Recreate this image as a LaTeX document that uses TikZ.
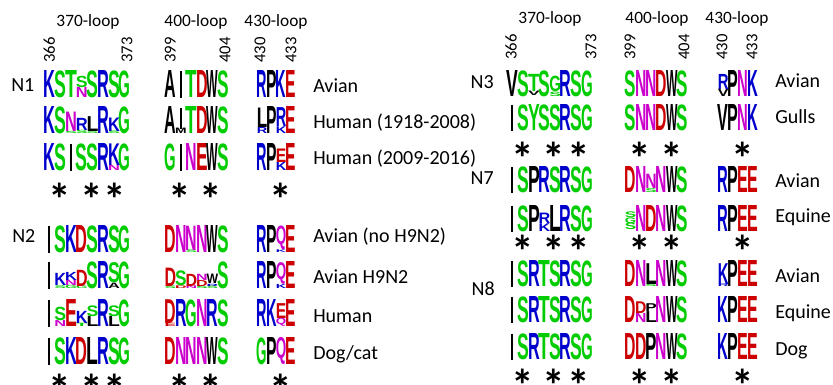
\documentclass[tikz,border=0pt]{standalone}
\usepackage{fontspec}
\setmainfont{Carlito}
\newfontfamily\logofont{Liberation Sans}
\usepackage{graphicx}

\newlength\px
\setlength\px{0.75pt}
\newlength\pxw
\setlength\pxw{0.825pt}

\definecolor{lgreen}{RGB}{0,204,0}
\definecolor{lblue}{RGB}{0,0,204}
\definecolor{lred}{RGB}{204,0,0}
\definecolor{lmag}{RGB}{204,0,204}
\colorlet{cS}{lgreen}\colorlet{cT}{lgreen}\colorlet{cG}{lgreen}\colorlet{cY}{lgreen}
\colorlet{cK}{lblue}\colorlet{cR}{lblue}
\colorlet{cD}{lred}\colorlet{cE}{lred}
\colorlet{cN}{lmag}\colorlet{cQ}{lmag}
\colorlet{cA}{black}\colorlet{cV}{black}\colorlet{cL}{black}\colorlet{cP}{black}
\colorlet{cW}{black}\colorlet{cM}{black}

% one letter: x, bottom, width, height, letter (- = nothing, I = thin bar)
\newcommand\lett[5]{%
  \if#5-\relax\else
  \if#5I\fill ({#1+#3/2-1.1},#2) rectangle ++(2.2,{-#4});%
  \else\node[anchor=south west, inner sep=0pt] at ({#1-0.05*#3},#2)
    {\resizebox*{#3\pxw}{#4\px}{\color{c#5}\logofont\bfseries #5}};%
  \fi\fi}

% a row of full letters: x0, column width, bottom, letters
\newcommand\logorow[4]{%
  \foreach \chr [count=\idx] in {#4}
    {\lett{#1+(\idx-1)*#2}{#3}{#2}{\lh}{\chr}}}

% a mixed column: x0, column width, bottom, column, letter/from/share
\newcommand\stk[5]{%
  \foreach \chr/\lo/\fr in {#5}{%
    \pgfmathsetmacro\yb{#3-\lo*\lh}%
    \pgfmathsetmacro\hh{\fr*\lh}%
    \lett{#1+(#4-1)*#2}{\yb}{#2}{\hh}{\chr}}}

\tikzset{
  hdr/.style={font=\fontsize{13}{15}\selectfont, inner sep=0pt},
  num/.style={font=\fontsize{12.5}{14}\selectfont, rotate=90, anchor=west, inner sep=0pt},
  lab/.style={font=\fontsize{15}{18}\selectfont, anchor=base west, inner sep=0pt},
  grp/.style={font=\fontsize{15}{18}\selectfont, inner sep=0pt},
  star/.style={font=\fontsize{34}{34}\selectfont\bfseries, anchor=north, inner sep=0pt}
}

\begin{document}
\begin{tikzpicture}[x=0.75pt, y=-0.75pt]
  \useasboundingbox[fill=white] (0,0) rectangle (833,385);

  % column blocks
  \def\xA{44}  \def\wA{10.75}
  \def\xB{165} \def\wB{10.5}
  \def\xC{257} \def\wC{9.5}
  \def\xD{507} \def\wD{10.65}
  \def\xE{625} \def\wE{10.35}
  \def\xF{718} \def\wF{9.75}

  % headers, left
  \node[hdr] (loopA) at (88,22) {370-loop};
  \node[hdr] (loopB) at (196,22) {400-loop};
  \node[hdr] (loopC) at (276,22) {430-loop};
  \node[num] (nA1) at (49.4,63) {366};
  \node[num] (nA2) at (127,63) {373};
  \node[num] (nB1) at (170.3,63) {399};
  \node[num] (nB2) at (225,63) {404};
  \node[num] (nC1) at (260,63) {430};
  \node[num] (nC2) at (291,63) {433};

  % headers, right
  \node[hdr] (loopD) at (550,19) {370-loop};
  \node[hdr] (loopE) at (657,19) {400-loop};
  \node[hdr] (loopF) at (737,19) {430-loop};
  \node[num] (nD1) at (511,60) {366};
  \node[num] (nD2) at (591,60) {373};
  \node[num] (nE1) at (630,60) {399};
  \node[num] (nE2) at (684,60) {404};
  \node[num] (nF1) at (722,60) {430};
  \node[num] (nF2) at (752,60) {433};

  \def\lh{27}
  % N1
  \node[grp, anchor=base west] (N1) at (11,92) {N1};
  \logorow{\xA}{\wA}{98}{K,S,T,-,S,R,S,G}
  \stk{\xA}{\wA}{98}{4}{N/0/.38,S/.38/.42}
  \logorow{\xB}{\wB}{98}{A,I,T,D,W,S}
  \logorow{\xC}{\wC}{98}{R,P,K,E}
  \node[lab] (l11) at (313,92.5) {Avian};

  \logorow{\xA}{\wA}{134}{K,S,-,-,-,R,-,G}
  \stk{\xA}{\wA}{134}{3}{S/0/.08,N/.08/.72}
  \stk{\xA}{\wA}{134}{4}{S/0/.12,R/.12/.45}
  \stk{\xA}{\wA}{134}{5}{S/0/.1,L/.1/.55}
  \stk{\xA}{\wA}{134}{7}{S/0/.1,K/.1/.5}
  \logorow{\xB}{\wB}{134}{A,-,T,D,W,S}
  \stk{\xB}{\wB}{134}{2}{M/0/.2,I/.2/.75}
  \logorow{\xC}{\wC}{134}{-,P,-,E}
  \stk{\xC}{\wC}{134}{1}{R/0/.22,L/.22/.72}
  \stk{\xC}{\wC}{134}{3}{K/0/.25,R/.25/.7}
  \node[lab] (l12) at (313,128) {Human (1918-2008)};

  \logorow{\xA}{\wA}{171}{K,S,I,S,S,R,-,G}
  \stk{\xA}{\wA}{171}{7}{N/0/.2,K/.2/.8}
  \logorow{\xB}{\wB}{171}{G,I,N,E,W,S}
  \logorow{\xC}{\wC}{171}{R,P,-,E}
  \stk{\xC}{\wC}{171}{3}{K/0/.3,E/.3/.5}
  \node[lab] (l13) at (313,165) {Human (2009-2016)};

  \foreach \sx in {60,92,115,180,211,281}
    \node[star] at (\sx,183) {*};

  % N2
  \node[grp, anchor=base west] (N2) at (12,243) {N2};
  \logorow{\xA}{\wA}{253}{I,S,K,D,S,R,S,G}
  \logorow{\xB}{\wB}{253}{D,N,-,N,W,S}
  \stk{\xB}{\wB}{253}{3}{S/0/.1,N/.1/.9}
  \logorow{\xC}{\wC}{253}{R,P,-,E}
  \stk{\xC}{\wC}{253}{3}{K/0/.1,Q/.1/.88}
  \node[lab] (l21) at (313,243) {Avian (no H9N2)};

  \logorow{\xA}{\wA}{289}{I,-,-,-,S,R,-,G}
  \stk{\xA}{\wA}{289}{2}{S/0/.1,K/.12/.45}
  \stk{\xA}{\wA}{289}{3}{G/0/.12,N/.12/.2,K/.32/.3}
  \stk{\xA}{\wA}{289}{4}{G/0/.1,D/.1/.6}
  \stk{\xA}{\wA}{289}{7}{A/0/.2,S/.22/.75}
  \logorow{\xB}{\wB}{289}{-,-,-,-,-,S}
  \stk{\xB}{\wB}{289}{1}{S/0/.1,D/.1/.68}
  \stk{\xB}{\wB}{289}{2}{D/0/.1,S/.1/.55}
  \stk{\xB}{\wB}{289}{3}{N/0/.1,D/.1/.45}
  \stk{\xB}{\wB}{289}{4}{S/0/.08,D/.08/.22,N/.3/.23}
  \stk{\xB}{\wB}{289}{5}{S/0/.1,R/.1/.08,W/.18/.35}
  \logorow{\xC}{\wC}{289}{R,P,-,E}
  \stk{\xC}{\wC}{289}{3}{K/0/.15,Q/.15/.8}
  \node[lab] (l22) at (313,283) {Avian H9N2};

  \logorow{\xA}{\wA}{327}{I,-,E,-,-,R,-,G}
  \stk{\xA}{\wA}{327}{2}{N/0/.22,S/.22/.5}
  \stk{\xA}{\wA}{327}{4}{T/0/.12,K/.12/.45}
  \stk{\xA}{\wA}{327}{5}{L/0/.38,S/.38/.4}
  \stk{\xA}{\wA}{327}{7}{L/0/.38,S/.38/.4}
  \logorow{\xB}{\wB}{327}{-,R,G,N,R,S}
  \stk{\xB}{\wB}{327}{1}{E/0/.12,D/.12/.88}
  \logorow{\xC}{\wC}{327}{R,K,-,E}
  \stk{\xC}{\wC}{327}{3}{Q/0/.3,E/.3/.55}
  \node[lab] (l23) at (313,322) {Human};

  \logorow{\xA}{\wA}{365}{I,S,K,D,L,R,S,G}
  \logorow{\xB}{\wB}{365}{D,N,N,N,W,S}
  \logorow{\xC}{\wC}{365}{G,P,Q,E}
  \node[lab] (l24) at (313,359) {Dog/cat};

  \foreach \sx in {60,92,115,180,211,281}
    \node[star] at (\sx,374) {*};

  \def\lh{26}
  % N3
  \node[grp, anchor=base east] (N3) at (494,89) {N3};
  \logorow{\xD}{\wD}{97}{V,S,-,S,-,R,S,G}
  \stk{\xD}{\wD}{97}{3}{V/.03/.17,T/.2/.66}
  \stk{\xD}{\wD}{97}{5}{S/0/.17,G/.19/.6}
  \logorow{\xE}{\wE}{97}{S,N,N,D,W,S}
  \logorow{\xF}{\wF}{97}{-,P,N,K}
  \stk{\xF}{\wF}{97}{1}{V/0/.28,R/.28/.58}
  \node[lab] (l31) at (775,88) {Avian};

  \logorow{\xD}{\wD}{131}{I,S,Y,S,S,R,S,G}
  \logorow{\xE}{\wE}{131}{S,N,N,D,W,S}
  \logorow{\xF}{\wF}{131}{V,P,N,K}
  \node[lab] (l32) at (775,124) {Gulls};

  \foreach \sx in {523,554,579,640,672,743}
    \node[star] at (\sx,142) {*};

  % N7
  \node[grp, anchor=base east] (N7) at (494,185) {N7};
  \logorow{\xD}{\wD}{193}{I,S,P,R,S,R,S,G}
  \logorow{\xE}{\wE}{193}{D,N,-,N,W,S}
  \stk{\xE}{\wE}{193}{3}{S/0/.15,N/.17/.55}
  \logorow{\xF}{\wF}{193}{R,P,E,E}
  \node[lab] (l71) at (775,187) {Avian};

  \logorow{\xD}{\wD}{232}{I,S,P,-,L,R,S,G}
  \stk{\xD}{\wD}{232}{4}{K/0/.3,R/.32/.4}
  \logorow{\xE}{\wE}{232}{-,N,D,N,W,S}
  \stk{\xE}{\wE}{232}{1}{S/.08/.25,G/.33/.22,S/.55/.22}
  \logorow{\xF}{\wF}{232}{R,P,E,E}
  \node[lab] (l72) at (775,223) {Equine};

  \foreach \sx in {523,554,579,640,672,743}
    \node[star] at (\sx,235) {*};

  % N8
  \node[grp, anchor=base east] (N8) at (495,295) {N8};
  \logorow{\xD}{\wD}{287}{I,S,R,T,S,R,S,G}
  \logorow{\xE}{\wE}{287}{D,N,-,N,W,S}
  \stk{\xE}{\wE}{287}{3}{S/0/.08,L/.08/.8}
  \logorow{\xF}{\wF}{287}{-,P,E,E}
  \stk{\xF}{\wF}{287}{1}{R/0/.1,K/.1/.8}
  \node[lab] (l81) at (775,282) {Avian};

  \logorow{\xD}{\wD}{323}{I,S,R,T,S,R,S,G}
  \logorow{\xE}{\wE}{323}{D,-,-,N,W,S}
  \stk{\xE}{\wE}{323}{2}{N/0/.35,D/.37/.45}
  \stk{\xE}{\wE}{323}{3}{L/0/.42,P/.42/.3}
  \logorow{\xF}{\wF}{323}{K,P,E,E}
  \node[lab] (l82) at (775,318) {Equine};

  \logorow{\xD}{\wD}{360}{I,S,R,T,S,R,S,G}
  \logorow{\xE}{\wE}{360}{D,D,P,N,W,S}
  \logorow{\xF}{\wF}{360}{K,P,E,E}
  \node[lab] (l83) at (775,355) {Dog};

  \foreach \sx in {523,554,579,640,672,743}
    \node[star] at (\sx,369) {*};
\end{tikzpicture}
\end{document}
